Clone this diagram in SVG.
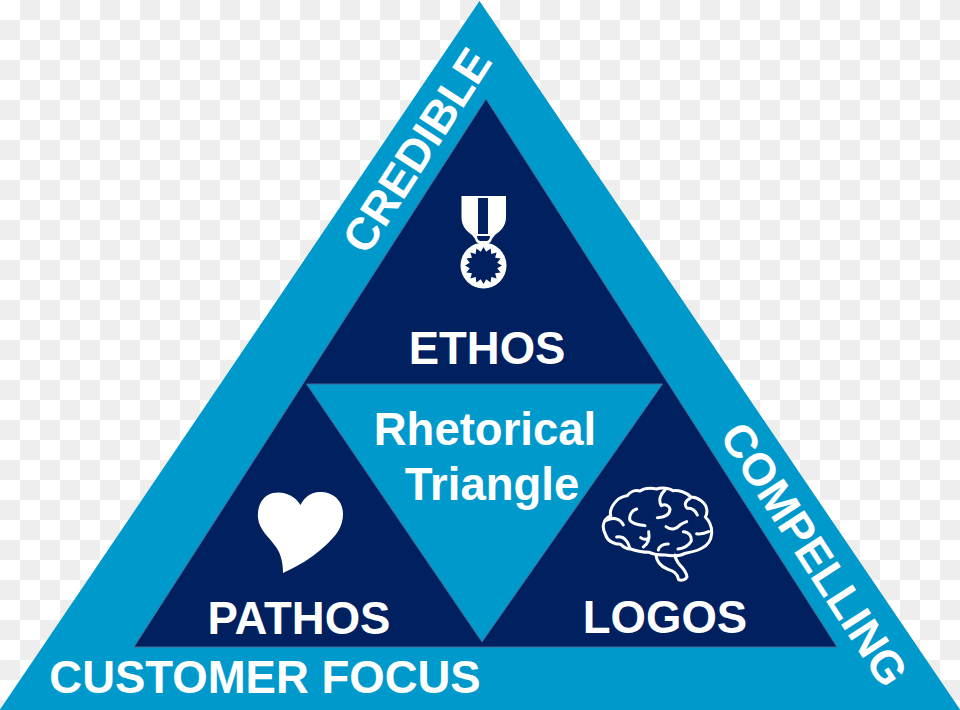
<svg xmlns="http://www.w3.org/2000/svg" width="960" height="710" viewBox="0 0 960 710">
  <defs>
    <pattern id="checker" width="40" height="40" patternUnits="userSpaceOnUse">
      <rect width="40" height="40" fill="#ffffff"/>
      <rect x="20" y="0" width="20" height="20" fill="#eeeeee"/>
      <rect x="0" y="20" width="20" height="20" fill="#eeeeee"/>
    </pattern>
  </defs>
  <style>
    text { font-family: "Liberation Sans", Arial, sans-serif; font-weight: 700; fill: #ffffff; text-anchor: middle; font-size: 45.500px; }
    .edge { stroke: #4a6a96; stroke-width: 1; }
    .line { fill: none; stroke: #ffffff; stroke-width: 9; stroke-linecap: round; stroke-linejoin: round; }
  </style>
  <rect width="960" height="710" fill="url(#checker)"/>
  <g id="outer-triangle">
    <polygon points="479.500,1 -1,711 961,711" fill="#0099cc"/>
    <text transform="translate(430 159) rotate(-57)">CREDIBLE</text>
    <text transform="translate(801 563) rotate(57)">COMPELLING</text>
    <text x="265" y="693">CUSTOMER FOCUS</text>
  </g>
  <g id="inner-triangle">
    <polygon class="edge" points="486,99 134,647 837,647" fill="#00205f"/>
  </g>
  <g id="ethos">
    <path fill="#ffffff" d="M461.500,196 H506 V217 C506,227 500,231 495,235 L491,240 H476 L472,235 C467,231 461.500,227 461.500,217 Z"/>
    <rect x="478" y="198" width="10" height="36" fill="#00205f"/>
    <path d="M475,236 Q475,242 478,243 H489 Q492,242 492,236 Z" fill="#ffffff"/>
    <path d="M477,236 Q477,240 480,241 H487 Q490,240 490,236 Z" fill="#00205f"/>
    <circle cx="483.500" cy="265.500" r="23" fill="#ffffff"/>
    <polygon id="ethos-seal" transform="translate(483.500 265.500)" fill="#00205f" points="18.500,0 13.700,2.700 17.100,7.100 11.600,7.800 13.100,13.100 7.800,11.600 7.100,17.100 2.700,13.700 0,18.500 -2.700,13.700 -7.100,17.100 -7.800,11.600 -13.100,13.100 -11.600,7.800 -17.100,7.100 -13.700,2.700 -18.500,0 -13.700,-2.700 -17.100,-7.100 -11.600,-7.800 -13.100,-13.100 -7.800,-11.600 -7.100,-17.100 -2.700,-13.700 0,-18.500 2.700,-13.700 7.100,-17.100 7.800,-11.600 13.100,-13.100 11.600,-7.800 17.100,-7.100 13.700,-2.700"/>
    <text x="487" y="364">ETHOS</text>
  </g>
  <g id="pathos">
    <path fill="#ffffff" d="M300.500,505 C294,494 282,491 273,493 C261,496 257,508 258,518 C259,530 270,538 276,547 C281,554 283,563 283,573 C298,566 312,558 325,546 C336,536 343,527 343,514 C343,502 335,493 322,492 C312,491 304,497 300.500,505 Z"/>
    <text x="299" y="634">PATHOS</text>
  </g>
  <g id="logos">
    <g transform="translate(590 475) scale(0.3333)">
      <!-- brain outline -->
      <path class="line" d="M40,150 C42,138 50,128 62,122 C58,105 68,88 85,72 C95,66 103,62 112,62 C120,50 135,44 150,48 C165,38 190,40 200,42 C215,36 240,40 248,47 C265,44 290,52 303,66 C325,66 348,85 350,102 C352,112 350,120 346,126 C358,138 366,158 365,175 C364,195 352,212 338,218 C325,228 300,232 285,235 C272,242 248,244 225,240 C210,240 190,238 178,232 C160,232 140,228 122,222 C108,222 98,214 92,208 C72,208 52,198 47,180 C42,170 38,160 40,150 Z"/>
      <!-- brain stem -->
      <path class="line" d="M198,240 C200,262 212,274 232,282 C248,288 262,292 266,314 C274,318 288,314 291,306 C290,292 278,278 268,268 C260,258 256,250 255,240"/>
      <!-- folds -->
      <path class="line" d="M140,102 C125,106 116,122 120,136 C128,148 148,150 165,152"/>
      <path class="line" d="M50,136 C66,126 90,128 100,150"/>
      <path class="line" d="M80,186 C98,182 112,192 120,220"/>
      <path class="line" d="M176,170 C180,192 172,208 160,216 M152,188 C160,194 168,194 176,190"/>
      <path class="line" d="M205,225 C207,214 220,206 235,207"/>
      <path class="line" d="M228,155 C245,168 262,160 270,150 C276,145 284,142 290,140"/>
      <path class="line" d="M225,45 C210,58 205,78 214,92 C226,86 238,92 240,102 C240,116 232,126 202,128"/>
      <path class="line" d="M300,70 C284,78 282,92 292,100 C306,98 318,108 322,120"/>
      <path class="line" d="M280,170 C298,170 306,186 304,198 C296,212 280,220 264,222"/>
      <path class="line" d="M320,176 C332,178 345,175 356,170"/>
    </g>
    <text x="665" y="633">LOGOS</text>
  </g>
  <g id="rhetorical-triangle">
    <polygon class="edge" points="306.500,384 662.500,384 482,642" fill="#0099cc"/>
    <text x="485" y="445">Rhetorical</text>
    <text x="492" y="500">Triangle</text>
  </g>
</svg>
